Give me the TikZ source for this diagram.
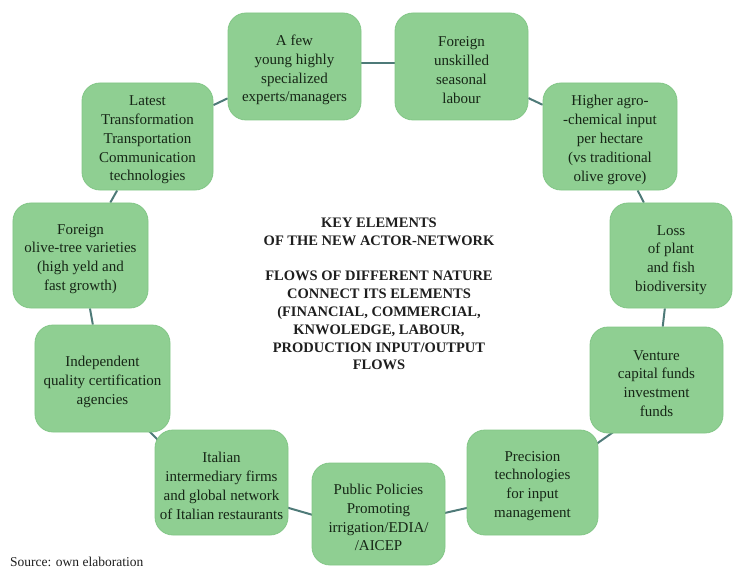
\documentclass[tikz,border=0pt]{standalone}
\usepackage{fontspec}
\setmainfont{Liberation Serif}
\usetikzlibrary{backgrounds}

\definecolor{boxfill}{RGB}{143,207,146}
\definecolor{boxedge}{RGB}{130,198,134}
\definecolor{boxtext}{RGB}{22,38,22}
\definecolor{linkcol}{RGB}{78,122,120}
\definecolor{hubtext}{RGB}{30,30,30}

\tikzset{
  actor/.style={draw=boxedge, line width=0.8bp, fill=boxfill, rounded corners=18bp,
    inner sep=0pt},
  actortext/.style={align=center, text=boxtext, inner sep=0pt,
    font=\fontsize{15bp}{18.8bp}\selectfont},
  link/.style={draw=linkcol, line width=2bp},
  hub/.style={align=center, text=hubtext, inner sep=0pt,
    font=\bfseries\fontsize{14.5bp}{17.8bp}\selectfont},
}

\begin{document}
\begin{tikzpicture}[x=1bp, y=-1bp]
\useasboundingbox (0,0) rectangle (733,568);

% actors of the network, clockwise from the top
\node[actor, minimum width=133bp, minimum height=107bp] (A) at (294.5,66.5) {};
\node[actor, minimum width=133bp, minimum height=107bp] (B) at (461.5,66.5) {};
\node[actor, minimum width=134bp, minimum height=107bp] (C) at (610,136.5) {};
\node[actor, minimum width=122bp, minimum height=105bp] (D) at (671,255.5) {};
\node[actor, minimum width=133bp, minimum height=106bp] (E) at (656.5,380) {};
\node[actor, minimum width=131bp, minimum height=105bp] (F) at (532.5,482.5) {};
\node[actor, minimum width=133bp, minimum height=102bp] (G) at (378.5,514) {};
\node[actor, minimum width=133bp, minimum height=105bp] (H) at (221.5,482.5) {};
\node[actor, minimum width=135bp, minimum height=107bp] (I) at (102.5,378.5) {};
\node[actor, minimum width=135bp, minimum height=105bp] (J) at (80.5,255.5) {};
\node[actor, minimum width=131bp, minimum height=107bp] (K) at (147.5,136.5) {};

% their labels, set a little below each box centre
\node[actortext] (tA) at ([yshift=-3.5bp]A.center)
  {A few\\young highly\\specialized\\experts/managers};
\node[actortext] (tB) at ([yshift=-3.5bp]B.center)
  {Foreign\\unskilled\\seasonal\\labour};
\node[actortext] (tC) at ([yshift=-3.5bp]C.center)
  {Higher agro-\\-chemical input\\per hectare\\(vs traditional\\olive grove)};
\node[actortext] (tD) at ([yshift=-4.5bp]D.center)
  {Loss\\of plant\\and fish\\biodiversity};
\node[actortext] (tE) at ([yshift=-3.5bp]E.center)
  {Venture\\capital funds\\investment\\funds};
\node[actortext] (tF) at ([yshift=-3.5bp]F.center)
  {Precision\\technologies\\for input\\management};
\node[actortext] (tG) at ([yshift=-3.5bp]G.center)
  {Public Policies\\Promoting\\irrigation/EDIA/\\/AICEP};
\node[actortext] (tH) at ([yshift=-3.5bp]H.center)
  {Italian\\intermediary firms\\and global network\\of Italian restaurants};
\node[actortext] (tI) at ([yshift=-3.5bp]I.center)
  {Independent\\quality certification\\agencies};
\node[actortext] (tJ) at ([yshift=-3.5bp]J.center)
  {Foreign\\olive-tree varieties\\(high yeld and\\fast growth)};
\node[actortext] (tK) at ([yshift=-3.5bp]K.center)
  {Latest\\Transformation\\Transportation\\Communication\\technologies};

% central statement
\node[hub] (hub) at (379,294)
  {KEY ELEMENTS\\OF THE NEW ACTOR-NETWORK\\[17.8bp]
   FLOWS OF DIFFERENT NATURE\\CONNECT ITS ELEMENTS\\(FINANCIAL, COMMERCIAL,\\
   KNWOLEDGE, LABOUR,\\PRODUCTION INPUT/OUTPUT\\FLOWS};

% source line at the foot
\node[anchor=base west, inner sep=0pt, text=hubtext,
      font=\fontsize{13.5bp}{16bp}\selectfont] (src) at (10,566.5)
  {Source: own elaboration};

% connectors behind the boxes
\begin{scope}[on background layer]
  \draw[link] (K) -- (A);
  \draw[link] ([yshift=3.5bp]A.center) -- ([yshift=3.5bp]B.center);
  \draw[link] (B) -- (C);
  \draw[link] (C) -- (D);
  \draw[link] (D) -- (E);
  \draw[link] ([yshift=-21.6bp]E.center) -- ([yshift=-6.5bp]F.center);
  \draw[link] ([yshift=-10.6bp]F.center) -- ([yshift=-14bp]G.center);
  \draw[link] ([yshift=-20bp]G.center) -- ([yshift=-6bp]H.center);
  \draw[link] ([yshift=-21bp]H.center) -- ([yshift=-6bp]I.center);
  \draw[link] (I) -- (J);
  \draw[link] (J) -- (K);
\end{scope}
\end{tikzpicture}
\end{document}
